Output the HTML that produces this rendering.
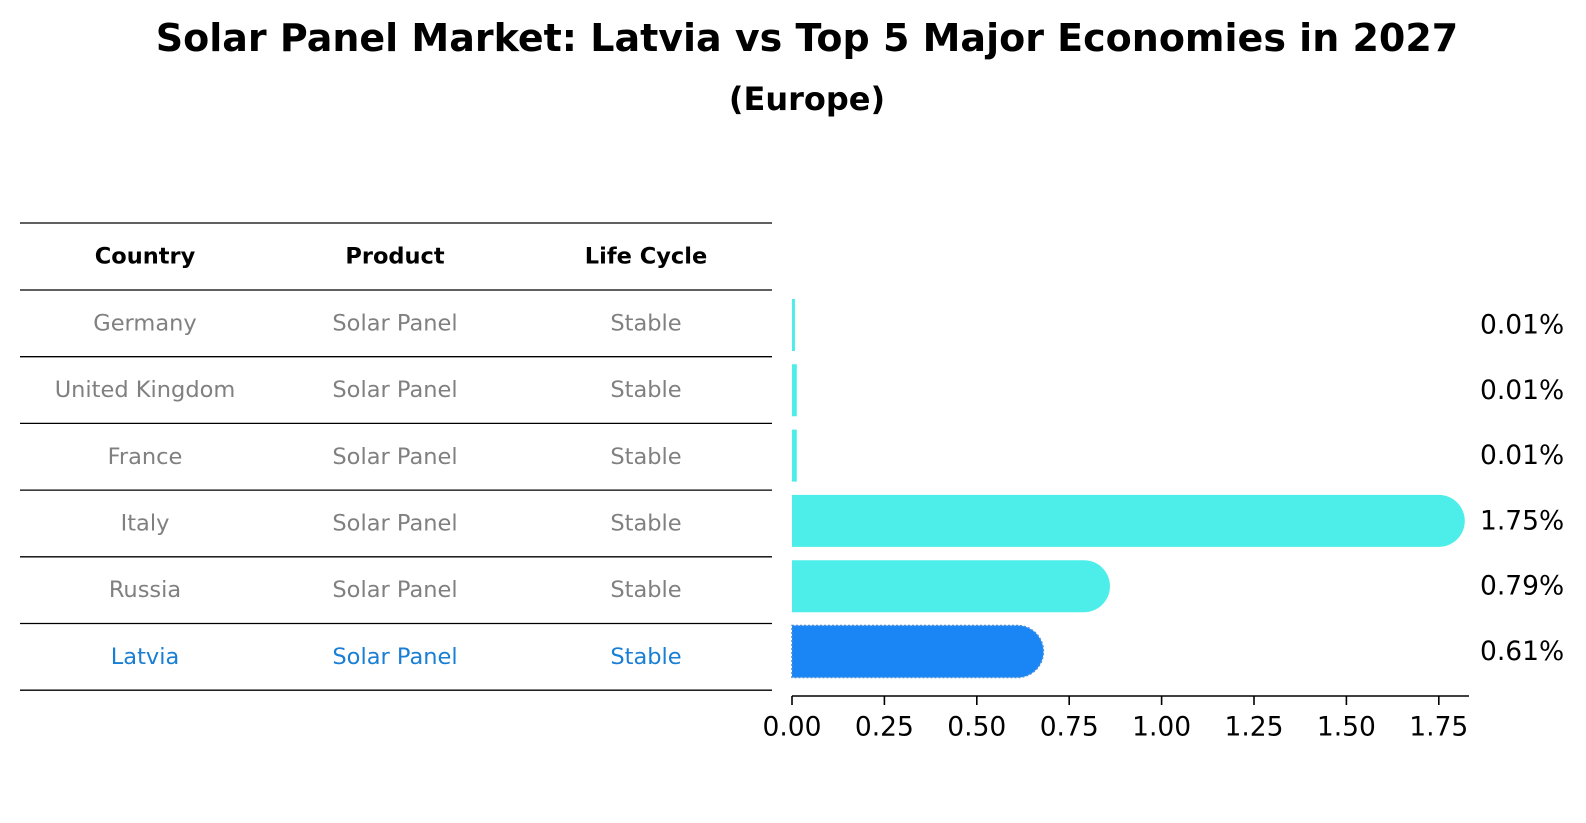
<!DOCTYPE html>
<html><head><meta charset="utf-8">
<style>
html,body{margin:0;padding:0;background:#fff;}
svg{display:block;font-family:"DejaVu Sans","Liberation Sans",sans-serif;}
</style></head>
<body>
<svg id="chart" width="1586" height="823" viewBox="0 0 1586 823" xmlns="http://www.w3.org/2000/svg">
  <text x="807" y="38" text-anchor="middle" dominant-baseline="central" font-weight="bold" font-size="38px" fill="#000">Solar Panel Market: Latvia vs Top 5 Major Economies in 2027</text>
  <text x="807" y="99" text-anchor="middle" dominant-baseline="central" font-weight="bold" font-size="32px" fill="#000">(Europe)</text>
  <g id="table"></g>
  <g id="bars"></g>
  <g id="axis"></g>
</svg>
<script>
const countries = ["Germany","United Kingdom","France","Italy","Russia","Latvia"];
const products = ["Solar Panel","Solar Panel","Solar Panel","Solar Panel","Solar Panel","Solar Panel"];
const lifeCycles = ["Stable","Stable","Stable","Stable","Stable","Stable"];
const values = [0.008, 0.013, 0.013, 1.75, 0.79, 0.61];
const valueLabels = ["0.01%","0.01%","0.01%","1.75%","0.79%","0.61%"];
const headers = ["Country","Product","Life Cycle"];
const xTicks = [0, 0.25, 0.5, 0.75, 1.0, 1.25, 1.5, 1.75];
const xTickLabels = ["0.00","0.25","0.50","0.75","1.00","1.25","1.50","1.75"];
const highlight = "Latvia";

const NS = "http://www.w3.org/2000/svg";
function mk(tag, attrs, parent){const e=document.createElementNS(NS,tag);for(const k in attrs)e.setAttribute(k,attrs[k]);parent.appendChild(e);return e;}

// scales
const X0 = 792, PXU = 369.6;
function xScale(v){return X0 + v*PXU;}
const BAR_Y0 = 325, BAR_STEP = 65.3, BAR_H = 52, CAP = 26;
function yBar(i){return BAR_Y0 + i*BAR_STEP;}

// table
const table = document.getElementById('table');
const colX = [145, 395, 646];
const lineY0 = 223, headerH = 67, rowH = 66.7;
function lineY(k){return k===0?lineY0:(lineY0+headerH+(k-1)*rowH);}
for(let k=0;k<=countries.length+1;k++){
  const l = mk('line',{x1:20,x2:772,y1:lineY(k),y2:lineY(k),stroke:'#000','stroke-width':1.3},table);
  
  
}
headers.forEach((h,j)=>{
  const t = mk('text',{x:colX[j],y:(lineY(0)+lineY(1))/2,'text-anchor':'middle','dominant-baseline':'central','font-weight':'bold','font-size':'22.5px',fill:'#000'},table);
  t.textContent = h;
  
  
});
countries.forEach((c,i)=>{
  const cy = (lineY(i+1)+lineY(i+2))/2;
  const col = c===highlight ? '#1a7fd4' : '#808080';
  [c, products[i], lifeCycles[i]].forEach((txt,j)=>{
    const t = mk('text',{x:colX[j],y:cy,'text-anchor':'middle','dominant-baseline':'central','font-size':'22.5px',fill:col},table);
    t.textContent = txt;
    
    
  });
});

// bars
const bars = document.getElementById('bars');
values.forEach((v,i)=>{
  const cy = yBar(i), top = cy - BAR_H/2, xe = xScale(v);
  const isH = countries[i]===highlight;
  const fill = isH ? '#1a86f5' : '#4deeea';
  let d;
  if (v > 0.1) {
    d = `M${X0},${top} L${xe},${top} A${CAP},${BAR_H/2} 0 0 1 ${xe},${top+BAR_H} L${X0},${top+BAR_H} Z`;
  } else {
    const w = Math.max(xe - X0, 2.5);
    d = `M${X0},${top} h${w} v${BAR_H} h${-w} Z`;
  }
  const p = mk('path',{d:d,fill:fill},bars);
  if(isH){p.setAttribute('stroke','#4a90d9');p.setAttribute('stroke-width','1.5');p.setAttribute('stroke-dasharray','2 2');}
  
  
  const t = mk('text',{x:1480,y:cy,'dominant-baseline':'central','font-size':'26.5px',fill:'#000'},bars);
  t.textContent = valueLabels[i];
  
  
});

// axis
const axis = document.getElementById('axis');
const al = mk('line',{x1:X0,x2:1469,y1:696,y2:696,stroke:'#000','stroke-width':1.6},axis);


xTicks.forEach((tv,k)=>{
  const x = xScale(tv);
  const tk = mk('line',{x1:x,x2:x,y1:696,y2:705,stroke:'#000','stroke-width':1.6},axis);
  
  
  const t = mk('text',{x:x,y:727,'text-anchor':'middle','dominant-baseline':'central','font-size':'26.5px',fill:'#000'},axis);
  t.textContent = xTickLabels[k];
  
  
});
</script>
</body></html>
